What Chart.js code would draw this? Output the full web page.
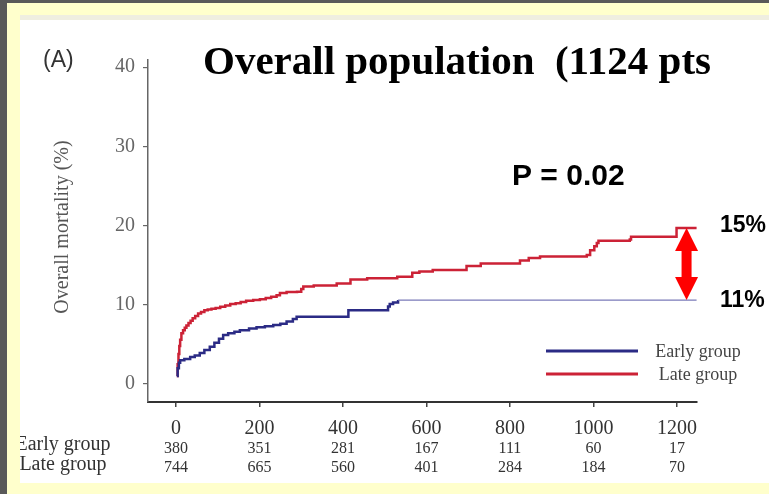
<!DOCTYPE html>
<html>
<head>
<meta charset="utf-8">
<title>Overall mortality</title>
<script src="https://cdn.jsdelivr.net/npm/chart.js@4.4.1/dist/chart.umd.min.js"></script>
<style>
    html, body { margin: 0; padding: 0; background: #595959; }
    canvas { display: block; }
</style>
</head>
<body>
<canvas id="kmChart" width="769" height="494"></canvas>
<script>
// 坐标轴刻度
const xTicks = [0, 200, 400, 600, 800, 1000, 1200];
const yTicks = [0, 10, 20, 30, 40];

// Early group 累计死亡率 (天, %)
const earlyDays = [2, 4, 7, 10, 20, 34, 45, 57, 68, 81, 92, 103, 113, 125, 140, 153, 175, 193, 213, 233, 250, 265, 280, 289, 413, 508, 512, 520, 532, 1247];
const earlyPct  = [1.0, 2.0, 2.7, 3.0, 3.15, 3.4, 3.6, 3.9, 4.3, 4.7, 5.2, 5.7, 6.2, 6.4, 6.6, 6.8, 7.0, 7.15, 7.3, 7.45, 7.6, 7.9, 8.2, 8.5, 9.3, 9.8, 10.1, 10.3, 10.6, 10.6];

// Late group 累计死亡率 (天, %)
const lateDays = [2, 4, 6, 8, 10, 13, 17, 21, 25, 30, 35, 40, 46, 53, 60, 68, 76, 85, 95, 106, 118, 130, 143, 155, 168, 185, 201, 215, 228, 241, 249, 265, 290, 300, 305, 330, 385, 418, 458, 530, 566, 583, 615, 696, 730, 824, 845, 872, 984, 992, 1002, 1008, 1012, 1087, 1090, 1199, 1247];
const latePct  = [1.0, 2.5, 3.8, 4.8, 5.6, 6.4, 6.8, 7.1, 7.4, 7.7, 8.0, 8.3, 8.6, 8.9, 9.1, 9.3, 9.4, 9.5, 9.6, 9.75, 9.9, 10.1, 10.2, 10.35, 10.5, 10.6, 10.7, 10.85, 11.0, 11.2, 11.5, 11.6, 11.65, 12.0, 12.3, 12.45, 12.7, 13.2, 13.35, 13.55, 14.05, 14.2, 14.4, 14.9, 15.2, 15.6, 15.9, 16.1, 16.3, 16.9, 17.4, 17.8, 18.1, 18.25, 18.6, 19.7, 19.7];

// 风险人数
const groupNames = ['Early group', 'Late group'];
const earlyAtRisk = [380, 351, 281, 167, 111, 60, 17];
const lateAtRisk  = [744, 665, 560, 401, 284, 184, 70];

// 文字标注
const panelLabel = '(A)';
const titleText = 'Overall population  (1124 pts';
const yTitle = 'Overall mortality (%)';
const pText = 'P = 0.02';
const gapLabels = ['15%', '11%'];

const EARLY_COLOR = '#2b2b85';
const EARLY_TAIL = '#7a7ab8';
const LATE_COLOR = '#cc2236';
const SERIF = '"Liberation Serif", "DejaVu Serif", serif';
const SANS = '"Liberation Sans", Arial, sans-serif';

function toPoints(days, pct) {
    return days.map((d, i) => ({ x: d, y: pct[i] }));
}

// 背景: 灰色边 + 黄色框 + 白色面板
const backgroundPlugin = {
    id: 'slideBackground',
    beforeDraw(chart) {
        const ctx = chart.ctx;
        ctx.save();
        ctx.fillStyle = '#595959';
        ctx.fillRect(0, 0, 769, 494);
        ctx.fillStyle = '#ffffcc';
        ctx.fillRect(7, 3, 762, 491);
        ctx.fillStyle = '#efeee0';
        ctx.fillRect(20, 15, 749, 5);
        ctx.fillStyle = '#ffffff';
        ctx.fillRect(20, 20, 749, 463);
        ctx.restore();
    }
};

// 标题、图例、箭头、风险人数表
const annotationPlugin = {
    id: 'kmAnnotations',
    afterDraw(chart) {
        const ctx = chart.ctx;
        const xs = chart.scales.x;
        const ys = chart.scales.y;
        ctx.save();
        ctx.beginPath();
        ctx.rect(20, 20, 749, 463);
        ctx.clip();
        ctx.textBaseline = 'alphabetic';

        ctx.fillStyle = '#333';
        ctx.font = '23px ' + SANS;
        ctx.textAlign = 'left';
        ctx.fillText(panelLabel, 43, 67);

        ctx.fillStyle = '#000';
        ctx.font = 'bold 41px ' + SERIF;
        ctx.fillText(titleText, 203, 74);

        ctx.font = 'bold 30px ' + SANS;
        ctx.fillText(pText, 512, 185);

        ctx.font = 'bold 23px ' + SANS;
        ctx.fillText(gapLabels[0], 720, 232);
        ctx.fillText(gapLabels[1], 720, 307);

        // y 轴标题
        ctx.save();
        ctx.translate(68, 227);
        ctx.rotate(-Math.PI / 2);
        ctx.textAlign = 'center';
        ctx.fillStyle = '#555';
        ctx.font = '20px ' + SERIF;
        ctx.fillText(yTitle, 0, 0);
        ctx.restore();

        // 两组之间的差距箭头
        const ax = xs.getPixelForValue(1223);
        const yTop = ys.getPixelForValue(latePct[latePct.length - 1]);
        const yBot = ys.getPixelForValue(earlyPct[earlyPct.length - 1]);
        const headLen = 23, headHalf = 11.5, shaftHalf = 5;
        ctx.fillStyle = '#ff0000';
        ctx.beginPath();
        ctx.moveTo(ax, yTop);
        ctx.lineTo(ax + headHalf, yTop + headLen);
        ctx.lineTo(ax + shaftHalf, yTop + headLen);
        ctx.lineTo(ax + shaftHalf, yBot - headLen);
        ctx.lineTo(ax + headHalf, yBot - headLen);
        ctx.lineTo(ax, yBot);
        ctx.lineTo(ax - headHalf, yBot - headLen);
        ctx.lineTo(ax - shaftHalf, yBot - headLen);
        ctx.lineTo(ax - shaftHalf, yTop + headLen);
        ctx.lineTo(ax - headHalf, yTop + headLen);
        ctx.closePath();
        ctx.fill();

        // 图例
        const legendRows = [
            { name: groupNames[0], color: EARLY_COLOR, y: 351 },
            { name: groupNames[1], color: LATE_COLOR, y: 374 }
        ];
        ctx.lineWidth = 3;
        ctx.font = '18px ' + SERIF;
        ctx.textAlign = 'center';
        legendRows.forEach(row => {
            ctx.strokeStyle = row.color;
            ctx.beginPath();
            ctx.moveTo(546, row.y);
            ctx.lineTo(638, row.y);
            ctx.stroke();
            ctx.fillStyle = '#444';
            ctx.fillText(row.name, 698, row.y + 6);
        });

        // 风险人数
        ctx.fillStyle = '#333';
        ctx.font = '20px ' + SERIF;
        ctx.fillText(groupNames[0], 63, 450);
        ctx.fillText(groupNames[1], 63, 470);
        ctx.font = '16px ' + SERIF;
        xTicks.forEach((t, i) => {
            const px = xs.getPixelForValue(t);
            ctx.fillText(String(earlyAtRisk[i]), px, 453);
            ctx.fillText(String(lateAtRisk[i]), px, 472);
        });

        ctx.restore();
    }
};

const ctx = document.getElementById('kmChart').getContext('2d');
const chart = new Chart(ctx, {
    type: 'line',
    data: {
        datasets: [{
            label: groupNames[0],
            data: toPoints(earlyDays, earlyPct),
            borderColor: EARLY_COLOR,
            borderWidth: 2.5,
            stepped: true,
            pointRadius: 0,
            fill: false,
            segment: {
                borderColor: c => c.p0.parsed.x >= 532 ? EARLY_TAIL : undefined,
                borderWidth: c => c.p0.parsed.x >= 532 ? 1.3 : undefined
            }
        }, {
            label: groupNames[1],
            data: toPoints(lateDays, latePct),
            borderColor: LATE_COLOR,
            borderWidth: 2.5,
            stepped: true,
            pointRadius: 0,
            fill: false
        }]
    },
    options: {
        responsive: false,
        animation: false,
        layout: { padding: { left: 0, right: 72, top: 60, bottom: 0 } },
        plugins: {
            legend: { display: false },
            tooltip: { enabled: false }
        },
        scales: {
            x: {
                type: 'linear',
                min: -67,
                max: 1248,
                afterBuildTicks: scale => { scale.ticks = xTicks.map(v => ({ value: v })); },
                afterFit: scale => { scale.height = 92; },
                ticks: {
                    color: '#333',
                    font: { family: SERIF, size: 20 },
                    padding: 10,
                    maxRotation: 0,
                    autoSkip: false,
                    callback: v => String(v)
                },
                grid: { drawOnChartArea: false, drawTicks: true, tickLength: 5, color: '#444', lineWidth: 1.5 },
                border: { display: true, color: '#333', width: 2 }
            },
            y: {
                min: -2.27,
                max: 40.9,
                afterBuildTicks: scale => { scale.ticks = yTicks.map(v => ({ value: v })); },
                afterFit: scale => { scale.width = 148; },
                ticks: {
                    color: '#666',
                    font: { family: SERIF, size: 20 },
                    padding: 8
                },
                grid: { drawOnChartArea: false, drawTicks: true, tickLength: 5, color: '#666', lineWidth: 1.2 },
                border: { display: true, color: '#666', width: 1.5 }
            }
        }
    },
    plugins: [backgroundPlugin, annotationPlugin]
});
</script>
</body>
</html>
